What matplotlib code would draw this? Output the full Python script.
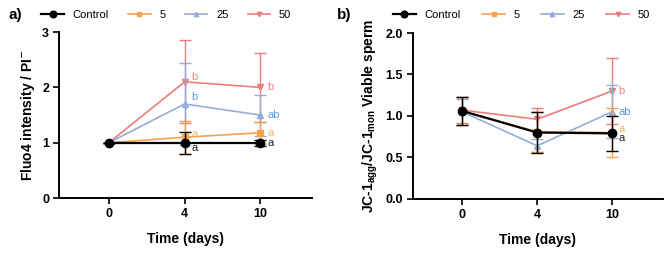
import matplotlib.pyplot as plt
import numpy as np

plt.rcParams['font.family'] = ['Liberation Sans', 'DejaVu Sans']

days = ['0', '4', '10']
groups = ['Control', '5', '25', '50']

# panel a: Fluo4 intensity / PI-
a_mean = {'Control': [1.0, 1.0, 1.0],
          '5': [1.0, 1.10, 1.18],
          '25': [1.0, 1.70, 1.50],
          '50': [1.0, 2.10, 2.00]}
a_err = {'Control': [0.0, 0.20, 0.05],
         '5': [0.0, 0.30, 0.20],
         '25': [0.0, 0.74, 0.37],
         '50': [0.0, 0.75, 0.62]}
a_letters = {'Control': ['', 'a', 'a'], '5': ['', 'a', 'a'],
             '25': ['', 'b', 'ab'], '50': ['', 'b', 'b']}

# panel b: JC-1agg/JC-1mon viable sperm
b_mean = {'Control': [1.06, 0.80, 0.79],
          '5': [1.06, 0.81, 0.80],
          '25': [1.05, 0.64, 1.05],
          '50': [1.07, 0.96, 1.30]}
b_err = {'Control': [0.17, 0.25, 0.21],
         '5': [0.17, 0.24, 0.29],
         '25': [0.16, 0.08, 0.32],
         '50': [0.16, 0.14, 0.40]}
b_letters = {'Control': ['', '', 'a'], '5': ['', '', 'a'],
             '25': ['', '', 'ab'], '50': ['', '', 'b']}

style = {
    'Control': dict(color='black', marker='o', ms=6, lw=1.6, z=5),
    '5': dict(color='#F5A34F', marker='s', ms=4, lw=1.2, z=3),
    '25': dict(color='#93ADD9', marker='^', ms=4, lw=1.2, z=2),
    '50': dict(color='#EC7D7D', marker='v', ms=4, lw=1.2, z=1),
}
letter_color = {'Control': '#222222', '5': '#F5B36E', '25': '#5A9BE6', '50': '#EC7D7D'}

fig = plt.figure(figsize=(6.69, 2.54), dpi=100)


def draw_panel(ax, mean, err, letters, ylim, yticks, ylabel, letter_dy):
    x = np.arange(len(days))
    handles = []
    for g in groups:
        s = style[g]
        c = ax.errorbar(x, mean[g], yerr=err[g], color=s['color'], marker=s['marker'],
                        ms=s['ms'], lw=s['lw'], elinewidth=1.0, capsize=4, capthick=1.0,
                        zorder=s['z'], label=g)
        handles.append(c[0])
        for i, t in enumerate(letters[g]):
            if t:
                ax.text(x[i] + 0.09, mean[g][i] + letter_dy.get((g, i), 0), t,
                        color=letter_color[g], fontsize=8, ha='left', va='center')
    ax.set_xlim(-0.66, 2.68)
    ax.set_ylim(*ylim)
    ax.set_yticks(yticks)
    ax.set_xticks(x)
    ax.set_xticklabels(days)
    ax.spines['top'].set_visible(False)
    ax.spines['right'].set_visible(False)
    for sp in ['left', 'bottom']:
        ax.spines[sp].set_linewidth(1.4)
    ax.tick_params(width=1.2, length=4, labelsize=9, pad=3)
    for lab in ax.get_xticklabels() + ax.get_yticklabels():
        lab.set_fontweight('bold')
    ax.set_xlabel('Time (days)', fontsize=10, fontweight='bold', labelpad=9)
    ax.set_ylabel(ylabel, fontsize=10, fontweight='bold', labelpad=4)
    return handles


ax1 = fig.add_axes([0.088, 0.22, 0.378, 0.654])
h1 = draw_panel(ax1, a_mean, a_err, a_letters, (0, 3), [0, 1, 2, 3],
                'Fluo4 intensity / PI$^{-}$',
                {('Control', 1): -0.1, ('50', 1): 0.08, ('25', 1): 0.12,
                 ('5', 1): 0.05})
ax1.yaxis.set_major_formatter(plt.FormatStrFormatter('%d'))

ax2 = fig.add_axes([0.617, 0.217, 0.374, 0.653])
h2 = draw_panel(ax2, b_mean, b_err, b_letters, (0, 2.0), [0, 0.5, 1.0, 1.5, 2.0],
                'JC-1$_{\\mathregular{agg}}$/JC-1$_{\\mathregular{mon}}$ Viable sperm',
                {('5', 2): 0.04, ('Control', 2): -0.06})
ax2.yaxis.set_major_formatter(plt.FormatStrFormatter('%.1f'))

for ax, h, x0, cs in [(ax1, h1, 0.062, 1.75), (ax2, h2, 0.588, 1.95)]:
    ax.legend(h, groups, loc='center left', bbox_to_anchor=(x0, 0.94),
              bbox_transform=fig.transFigure, ncol=4, frameon=False, fontsize=8,
              handlelength=2.0, columnspacing=cs, handletextpad=0.8,
              borderaxespad=0, borderpad=0, markerscale=0.8)

fig.text(0.012, 0.94, 'a)', fontsize=11, fontweight='bold', va='center')
fig.text(0.503, 0.94, 'b)', fontsize=11, fontweight='bold', va='center')

fig.savefig('out.png', dpi=100)
